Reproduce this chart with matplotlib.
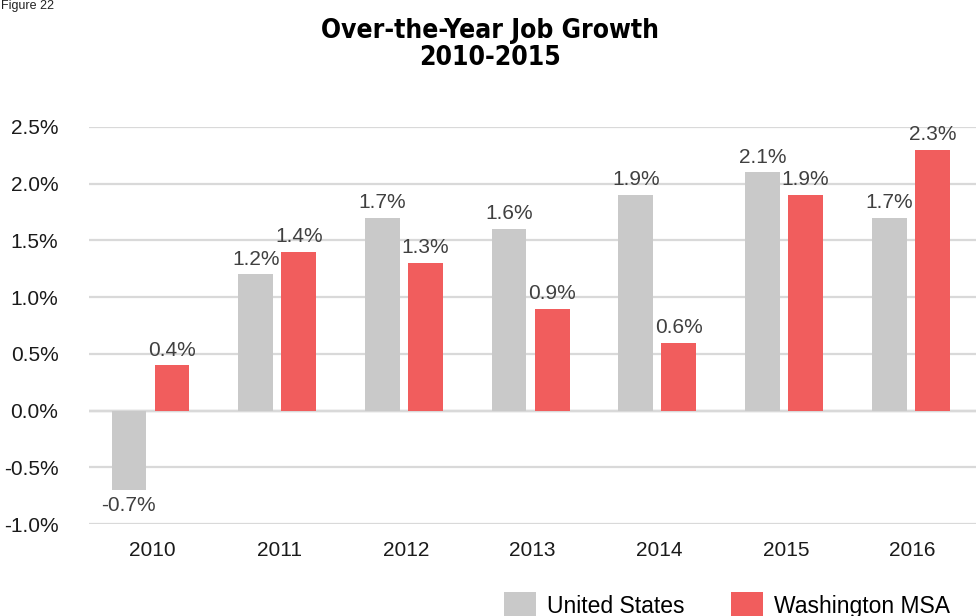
import numpy as np
import matplotlib.pyplot as plt

years = ['2010', '2011', '2012', '2013', '2014', '2015', '2016']
us_growth = [-0.7, 1.2, 1.7, 1.6, 1.9, 2.1, 1.7]
dc_growth = [0.4, 1.4, 1.3, 0.9, 0.6, 1.9, 2.3]
series_names = ['United States', 'Washington MSA']

US_COLOR = '#c9c9c9'
DC_COLOR = '#f15d5d'
LABEL_COLOR = '#404040'

plt.rcParams['font.family'] = ['Liberation Sans', 'DejaVu Sans']

fig = plt.figure(figsize=(9.76, 6.16), dpi=100)
ax = fig.add_axes([0.0912, 0.149, 0.9088, 0.645])

x = np.arange(len(years))
width = 0.275
offset = 0.17

us_bars = ax.bar(x - offset - 0.015, us_growth, width, color=US_COLOR, label=series_names[0], zorder=2)
dc_bars = ax.bar(x + offset - 0.015, dc_growth, width, color=DC_COLOR, label=series_names[1], zorder=2)

# value labels above (or below, for negatives) each bar
for bars, vals in ((us_bars, us_growth), (dc_bars, dc_growth)):
    for b, v in zip(bars, vals):
        cx = b.get_x() + b.get_width() / 2
        if v >= 0:
            ax.text(cx, v + 0.05, f'{v:.1f}%', ha='center', va='bottom',
                    fontsize=15, color=LABEL_COLOR)
        else:
            ax.text(cx, v - 0.05, f'{v:.1f}%', ha='center', va='top',
                    fontsize=15, color=LABEL_COLOR)

ax.set_xlim(-0.5, len(years) - 0.5)
ax.set_ylim(-1.0, 2.5)
ax.set_yticks(np.arange(-1.0, 2.51, 0.5))
ax.set_yticklabels([f'{t:.1f}%' for t in np.arange(-1.0, 2.51, 0.5)])
ax.set_xticks(x)
ax.set_xticklabels(years)
ax.tick_params(axis='both', length=0, labelsize=15, colors='#1a1a1a')
ax.tick_params(axis='y', pad=22)
ax.tick_params(axis='x', pad=12)

ax.grid(axis='y', color='#d9d9d9', linewidth=1.6, zorder=0)
ax.axhline(0, color='#a6a6a6', linewidth=1.6, zorder=1)
for s in ax.spines.values():
    s.set_visible(False)

fig.text(0.502, 0.927, 'Over-the-Year Job Growth\n2010-2015', ha='center', va='center',
         fontsize=19, fontweight='bold', linespacing=1.05, fontstretch='condensed',
         family=['DejaVu Sans'])
fig.text(0.001, 0.99, 'Figure 22', ha='left', va='center', fontsize=9, color='#222222')

fig.legend(handles=[us_bars, dc_bars], labels=series_names, loc='center',
           bbox_to_anchor=(0.745, 0.018), ncol=2, frameon=False, fontsize=16.5,
           handlelength=1.4, handleheight=1.4, columnspacing=2.0, handletextpad=0.5)

fig.savefig('out.png', dpi=100)
